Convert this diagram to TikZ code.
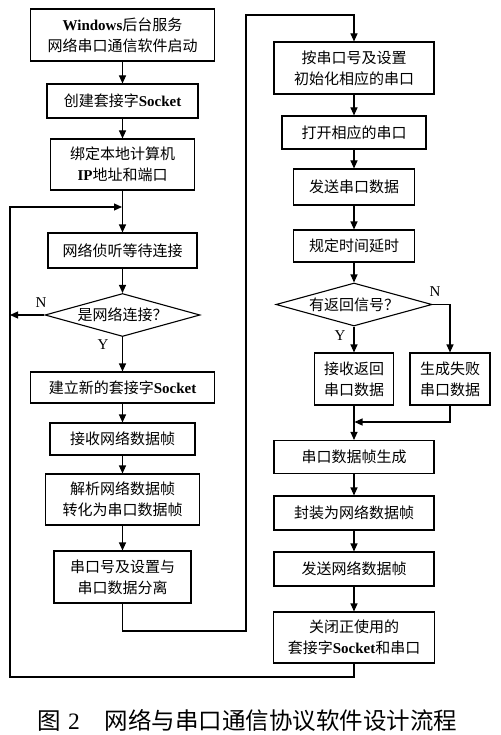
\documentclass[tikz,border=0pt]{standalone}
\usepackage{fontspec}
\setmainfont{Liberation Serif}
\newfontfamily\cjk{Noto Sans CJK SC}
\usetikzlibrary{arrows.meta,shapes.geometric}
\newcommand{\en}[1]{{\rmfamily\bfseries #1}}

\begin{document}
\begin{tikzpicture}[x=1pt,y=-1pt,line width=1.1pt,>={Triangle[length=8pt,width=7pt]}]
    \tikzstyle{proc}=[draw, rectangle, inner sep=0pt, align=center, font=\cjk\fontsize{15}{21}\selectfont]
    \tikzstyle{decision}=[draw, diamond, inner sep=0pt, shape aspect=3.6, align=center, font=\cjk\fontsize{15}{21}\selectfont]
    \tikzstyle{lbl}=[inner sep=0pt, font=\rmfamily\fontsize{15}{15}\selectfont]
    \useasboundingbox[fill=white] (0,0) rectangle (500,735);

    % left column
    \node[proc, minimum width=184, minimum height=52] (start)  at (122.5,35)  {\en{Windows}后台服务\\网络串口通信软件启动};
    \node[proc, minimum width=151, minimum height=34] (socket) at (122.5,101) {创建套接字\en{Socket}};
    \node[proc, minimum width=144, minimum height=51] (bind)   at (122.5,164.5) {绑定本地计算机\\\en{IP}地址和端口};
    \node[proc, minimum width=149, minimum height=35] (listen) at (122.5,250.5) {网络侦听等待连接};
    \node[decision, minimum width=155, minimum height=43] (conn) at (122.5,315) {是网络连接？};
    \node[proc, minimum width=184, minimum height=31] (newsock) at (122.5,387.5) {建立新的套接字\en{Socket}};
    \node[proc, minimum width=145, minimum height=32] (recv)   at (122.5,439) {接收网络数据帧};
    \node[proc, minimum width=154, minimum height=51] (parse)  at (122.5,499.5) {解析网络数据帧\\转化为串口数据帧};
    \node[proc, minimum width=137, minimum height=52] (sep)    at (122.5,577) {串口号及设置与\\串口数据分离};

    % right column
    \node[proc, minimum width=160, minimum height=52] (init)   at (354,68)    {按串口号及设置\\初始化相应的串口};
    \node[proc, minimum width=144, minimum height=33] (open)   at (354,132.5) {打开相应的串口};
    \node[proc, minimum width=121, minimum height=36] (send)   at (354,187)   {发送串口数据};
    \node[proc, minimum width=121, minimum height=32] (delay)  at (354,246)   {规定时间延时};
    \node[decision, minimum width=156, minimum height=43] (ret) at (354,304.5) {有返回信号？};
    \node[proc, minimum width=79, minimum height=52] (getback) at (354,379)   {接收返回\\串口数据};
    \node[proc, minimum width=80, minimum height=52] (fail)    at (450,379)   {生成失败\\串口数据};
    \node[proc, minimum width=160, minimum height=33] (frame)  at (354,457)   {串口数据帧生成};
    \node[proc, minimum width=160, minimum height=34] (pack)   at (354,513)   {封装为网络数据帧};
    \node[proc, minimum width=160, minimum height=34] (sendnet) at (354,569)  {发送网络数据帧};
    \node[proc, minimum width=161, minimum height=51] (close)  at (354,637.5) {关闭正使用的\\套接字\en{Socket}和串口};

    \node[lbl] (n1) at (41,303) {N};
    \node[lbl] (y1) at (103,345) {Y};
    \node[lbl] (n2) at (435,292) {N};
    \node[lbl] (y2) at (340,336) {Y};

    \coordinate (lt)  at (10,207);
    \coordinate (lb)  at (10,677);
    \coordinate (rb)  at (246,631);
    \coordinate (rt)  at (246,15);
    \coordinate (mg)  at (354,422);

    \path[->]
     (start)   edge (socket)
     (socket)  edge (bind)
     (bind)    edge (listen)
     (listen)  edge (conn)
     (conn)    edge (newsock)
     (newsock) edge (recv)
     (recv)    edge (parse)
     (parse)   edge (sep)
     (init)    edge (open)
     (open)    edge (send)
     (send)    edge (delay)
     (delay)   edge (ret)
     (ret)     edge (getback)
     (getback) edge (frame)
     (frame)   edge (pack)
     (pack)    edge (sendnet)
     (sendnet) edge (close);

    \draw[->] (conn.west) -- (conn.west -| lt);
    \draw[->] (ret.east) -| (fail.north);
    \draw[->,shorten >=0.5pt] (fail.south) |- (mg);
    \draw[->] (sep.south) |- (rb) -- (rt) -| (init.north);
    \draw[->,shorten >=0.5pt] (close.south) |- (lb) -- (lt) -- (lt -| listen.north);

    \node[anchor=west, inner sep=0pt, font=\cjk\fontsize{23.5}{24}\selectfont] (caption) at (37,720)
      {图\hspace{7pt}{\rmfamily 2}\hspace{25pt}网络与串口通信协议软件设计流程};
\end{tikzpicture}
\end{document}
